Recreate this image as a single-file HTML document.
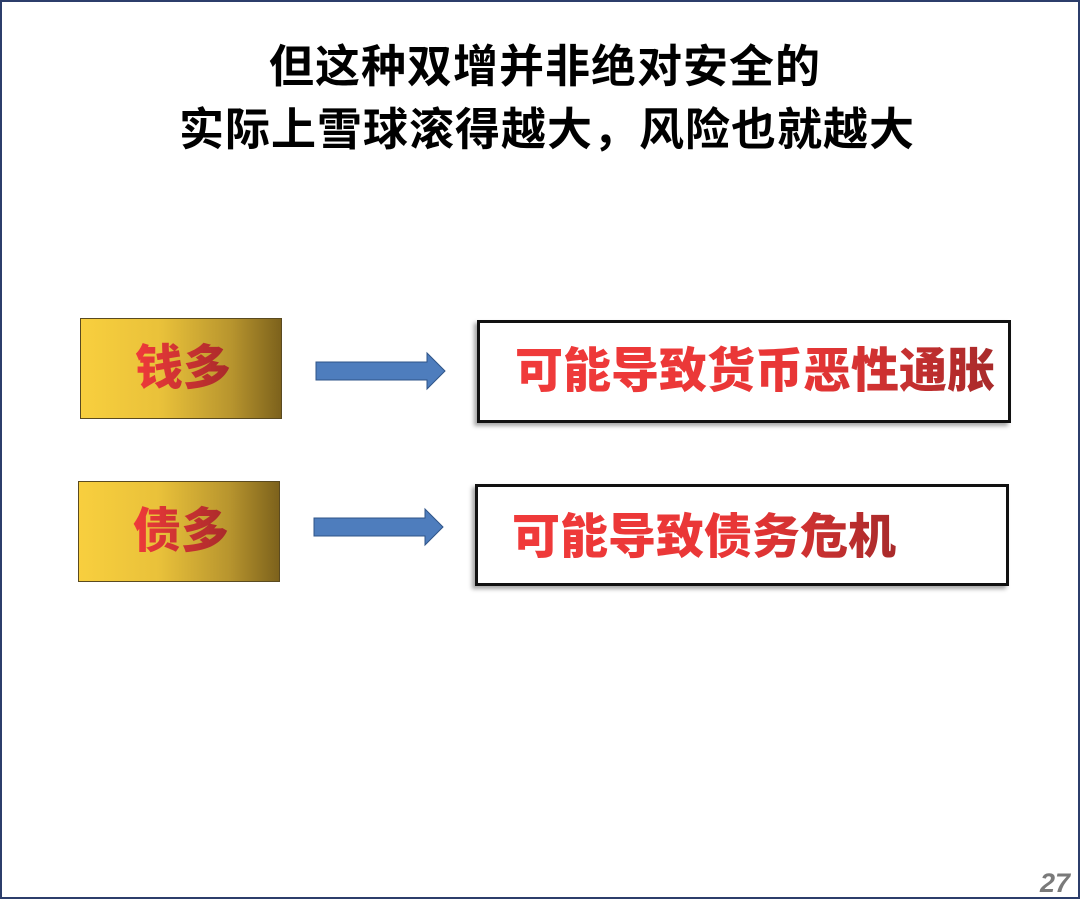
<!DOCTYPE html>
<html><head><meta charset="utf-8"><style>
html,body{margin:0;padding:0}
body{width:1080px;height:899px;position:relative;background:#fff;font-family:"Liberation Sans","Noto Sans CJK SC",sans-serif;overflow:hidden}
.frame{position:absolute;left:0;top:0;width:1076px;height:895px;border:2px solid #2c3e6b}
.t{position:absolute;left:0;width:1080px;text-align:center;font-weight:bold;font-size:45px;color:#000;line-height:50px;letter-spacing:1px}
.gb{position:absolute;width:200px;height:99px;border:1px solid #5a4a20;background:linear-gradient(90deg,#f8cf3e 0%,#e9c13a 40%,#b8952e 75%,#7d621c 100%)}
.gb span,.wb span{font-weight:900;font-size:48px;background:linear-gradient(90deg,#f03a3a,#a82a2a);-webkit-background-clip:text;background-clip:text;color:transparent;position:absolute;line-height:56px;white-space:nowrap}
.wb{position:absolute;border:3px solid #111;background:#fff;box-shadow:-3px 3px 4px rgba(0,0,0,.35)}
.wb span{background:linear-gradient(90deg,#f03a3a 0%,#e83636 60%,#a82a2a 100%);-webkit-background-clip:text;background-clip:text}
</style></head><body>
<div class="frame"></div>
<div class="t" style="top:42px;padding-left:10px;box-sizing:border-box">但这种双增并非绝对安全的</div>
<div class="t" style="top:105px;padding-left:14px;box-sizing:border-box">实际上雪球滚得越大，风险也就越大</div>

<div class="gb" style="left:80px;top:318px"><span style="left:54px;top:22px">钱多</span></div>
<div class="gb" style="left:78px;top:481px"><span style="left:54px;top:22px">债多</span></div>

<svg style="position:absolute;left:0;top:0" width="1080" height="899">
<polygon points="316,362 427,362 427,353 445,371 427,389 427,380 316,380" fill="#4e7dbd" stroke="#2f5488" stroke-width="1"/>
<polygon points="314,518 425,518 425,509 443,527 425,545 425,536 314,536" fill="#4e7dbd" stroke="#2f5488" stroke-width="1"/>
</svg>

<div class="wb" style="left:477px;top:320px;width:528px;height:97px"><span style="left:35px;top:21px">可能导致货币恶性通胀</span></div>
<div class="wb" style="left:475px;top:484px;width:528px;height:96px"><span style="left:34px;top:23px">可能导致债务危机</span></div>

<div style="position:absolute;left:1040px;top:868px;font-size:27px;font-style:italic;font-weight:bold;color:#7a7a7a">27</div>
</body></html>
